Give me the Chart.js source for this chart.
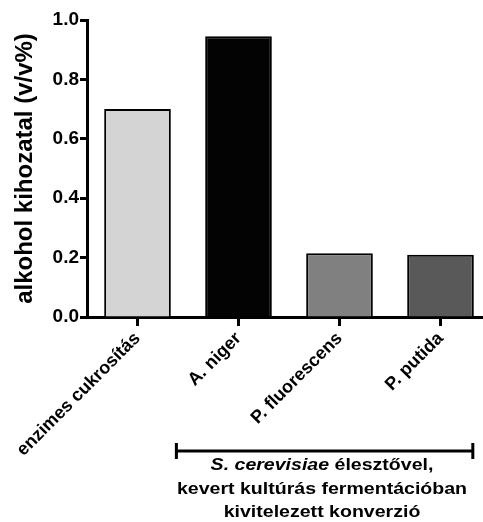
<!DOCTYPE html>
<html>
<head>
<meta charset="utf-8">
<script src="https://cdn.jsdelivr.net/npm/chart.js@4"></script>
<style>
  html, body { margin: 0; padding: 0; background: #fff; overflow: hidden; }
  #wrap { width: 491px; height: 522px; }
</style>
</head>
<body>
<div id="wrap"><canvas id="grafico" width="491" height="522"></canvas></div>
<script>
// Kategóriák és értékek (v/v%)
const kategoriak = ['enzimes cukrosítás', 'A. niger', 'P. fluorescens', 'P. putida'];
const hozam = [0.70, 0.945, 0.215, 0.21];
const szinek = ['#d4d4d4', '#030303', '#808080', '#595959'];
const yTickek = [0, 0.2, 0.4, 0.6, 0.8, 1.0];

const betu = 'Liberation Sans, Arial, sans-serif';

// Zárójel + felirat a baktériumos oszlopok alatt
const zarojel = {
    id: 'zarojel',
    afterDraw(chart) {
        const ctx = chart.ctx;
        const x = chart.scales.x;
        const w = x.getPixelForValue(1) - x.getPixelForValue(0);
        const bal = x.getPixelForValue(1) - 0.615 * w;
        const jobb = x.getPixelForValue(3) + 0.32 * w;
        const y = chart.chartArea.bottom + 134;

        ctx.save();
        ctx.strokeStyle = '#000';
        ctx.lineWidth = 3;
        ctx.beginPath();
        ctx.moveTo(bal, y); ctx.lineTo(jobb, y);
        ctx.moveTo(bal, y - 8); ctx.lineTo(bal, y + 8);
        ctx.moveTo(jobb, y - 8); ctx.lineTo(jobb, y + 8);
        ctx.stroke();

        const kozep = 322;
        const nyujt = 1.15;
        ctx.fillStyle = '#000';
        ctx.textBaseline = 'middle';
        ctx.textAlign = 'left';

        // első sor: dőlt fajnév + normál szöveg
        const dolt = 'italic bold 17px ' + betu;
        const sima = 'bold 17px ' + betu;
        ctx.font = dolt;
        const w1 = ctx.measureText('S. cerevisiae').width;
        ctx.font = sima;
        const w2 = ctx.measureText(' élesztővel,').width;
        ctx.save();
        ctx.translate(kozep, y + 14);
        ctx.scale(nyujt, 1);
        let sx = -(w1 + w2) / 2;
        ctx.font = dolt;
        ctx.fillText('S. cerevisiae', sx, 0);
        ctx.font = sima;
        ctx.fillText(' élesztővel,', sx + w1, 0);
        ctx.restore();

        ctx.textAlign = 'center';
        ctx.font = sima;
        [['kevert kultúrás fermentációban', y + 38], ['kivitelezett konverzió', y + 61]].forEach(([t, ty]) => {
            ctx.save();
            ctx.translate(kozep, ty);
            ctx.scale(nyujt, 1);
            ctx.fillText(t, 0, 0);
            ctx.restore();
        });
        ctx.restore();
    }
};

new Chart(document.getElementById('grafico'), {
    type: 'bar',
    data: {
        labels: kategoriak,
        datasets: [{
            data: hozam,
            backgroundColor: szinek,
            borderColor: '#000',
            borderWidth: 2,
            barPercentage: 0.66,
            categoryPercentage: 1
        }]
    },
    options: {
        responsive: false,
        animation: false,
        layout: { padding: { top: 20, left: 0, right: 0, bottom: 0 } },
        plugins: {
            legend: { display: false },
            tooltip: { enabled: false }
        },
        scales: {
            x: {
                afterFit: s => { s.height = 205; },
                grid: {
                    offset: false,
                    drawOnChartArea: false,
                    drawTicks: true,
                    tickLength: 9,
                    tickWidth: 3,
                    tickColor: '#000'
                },
                border: { display: true, width: 3, color: '#000' },
                ticks: {
                    minRotation: 45,
                    maxRotation: 45,
                    padding: 2,
                    color: '#000',
                    font: { family: betu, size: 18, weight: 'bold' }
                }
            },
            y: {
                min: 0,
                max: 1,
                afterFit: s => { s.width = 87; },
                afterBuildTicks: s => { s.ticks = yTickek.map(v => ({ value: v })); },
                grid: {
                    drawOnChartArea: false,
                    drawTicks: true,
                    tickLength: 7,
                    tickWidth: 3,
                    tickColor: '#000'
                },
                border: { display: true, width: 3, color: '#000' },
                ticks: {
                    padding: 1,
                    color: '#000',
                    font: { family: betu, size: 19, weight: 'bold' },
                    callback: v => v.toFixed(1)
                },
                title: {
                    display: true,
                    text: 'alkohol kihozatal (v/v%)',
                    color: '#000',
                    padding: { top: 11, bottom: 0 },
                    font: { family: betu, size: 24, weight: 'bold' }
                }
            }
        }
    },
    plugins: [zarojel]
});
</script>
</body>
</html>
